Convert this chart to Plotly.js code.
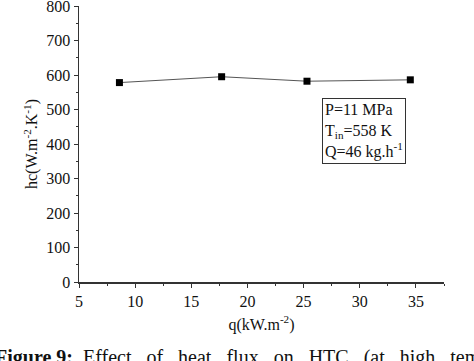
<!DOCTYPE html>
<html><head><meta charset="utf-8">
<script src="https://cdn.plot.ly/plotly-3.0.1.min.js"></script>
<style>html,body{margin:0;padding:0;background:#fff;overflow:hidden}#chart{width:474px;height:361px}</style>
</head><body><div id="chart"></div>
<script>
const heatFlux = [8.6, 17.7, 25.3, 34.5];
const htc = [578, 595, 582, 586];
const xTicks = [5, 10, 15, 20, 25, 30, 35];
const yTicks = [0, 100, 200, 300, 400, 500, 600, 700, 800];

const font = {family: 'Liberation Serif, Times New Roman, serif', size: 16, color: '#111'};

const trace = {
  x: heatFlux, y: htc, mode: 'lines+markers', type: 'scatter',
  line: {color: '#555', width: 1},
  marker: {symbol: 'square', size: 7, color: '#000'},
  showlegend: false
};

const layout = {
  width: 474, height: 361,
  margin: {l: 79, r: 30, t: 6, b: 79},
  paper_bgcolor: '#fff', plot_bgcolor: '#fff',
  font: font,
  xaxis: {
    range: [5, 37.5], tickvals: xTicks, ticktext: xTicks.map(String),
    showgrid: false, zeroline: false, showline: true, linecolor: '#333', linewidth: 1.5,
    ticks: 'outside', ticklen: 4, tickcolor: '#333', tickwidth: 1,
    ticklabeloverflow: 'allow',
    minor: {dtick: 2.5, tick0: 5, ticks: 'outside', ticklen: 2, tickcolor: '#333', showgrid: false},
    title: {text: 'q(kW.m<sup>-2</sup>)', font: font, standoff: 10},
    fixedrange: true
  },
  yaxis: {
    range: [0, 800], tickvals: yTicks, ticktext: yTicks.map(String),
    showgrid: false, zeroline: false, showline: true, linecolor: '#333', linewidth: 1.5,
    ticks: 'outside', ticklen: 4, tickcolor: '#333', tickwidth: 1,
    ticklabeloverflow: 'allow',
    minor: {dtick: 50, tick0: 0, ticks: 'outside', ticklen: 2, tickcolor: '#333', showgrid: false},
    title: {text: 'hc(W.m<sup>-2</sup>.K<sup>-1</sup>)', font: font, standoff: 4},
    fixedrange: true
  },
  annotations: [
    {
      xref: 'paper', yref: 'paper', x: 0.665, y: 0.665, xanchor: 'left', yanchor: 'top',
      text: 'P=11 MPa<br>T<sub>in</sub>=558 K<br>Q=46 kg.h<sup>-1</sup>',
      align: 'left', showarrow: false, font: font,
      bordercolor: '#333', borderwidth: 1, borderpad: 2, bgcolor: '#fff'
    },
    {
      xref: 'paper', yref: 'paper', x: -0.235, y: -0.272, xanchor: 'left', yanchor: 'middle',
      text: '<b>Figure 9:</b> &nbsp;Effect &nbsp;&nbsp;of &nbsp;&nbsp;heat &nbsp;&nbsp;flux &nbsp;&nbsp;on &nbsp;&nbsp;HTC &nbsp;&nbsp;(at &nbsp;&nbsp;high &nbsp;&nbsp;temperature',
      showarrow: false, font: {family: font.family, size: 20, color: '#111'}
    }
  ]
};

Plotly.newPlot('chart', [trace], layout, {staticPlot: true, displayModeBar: false});
</script></body></html>
